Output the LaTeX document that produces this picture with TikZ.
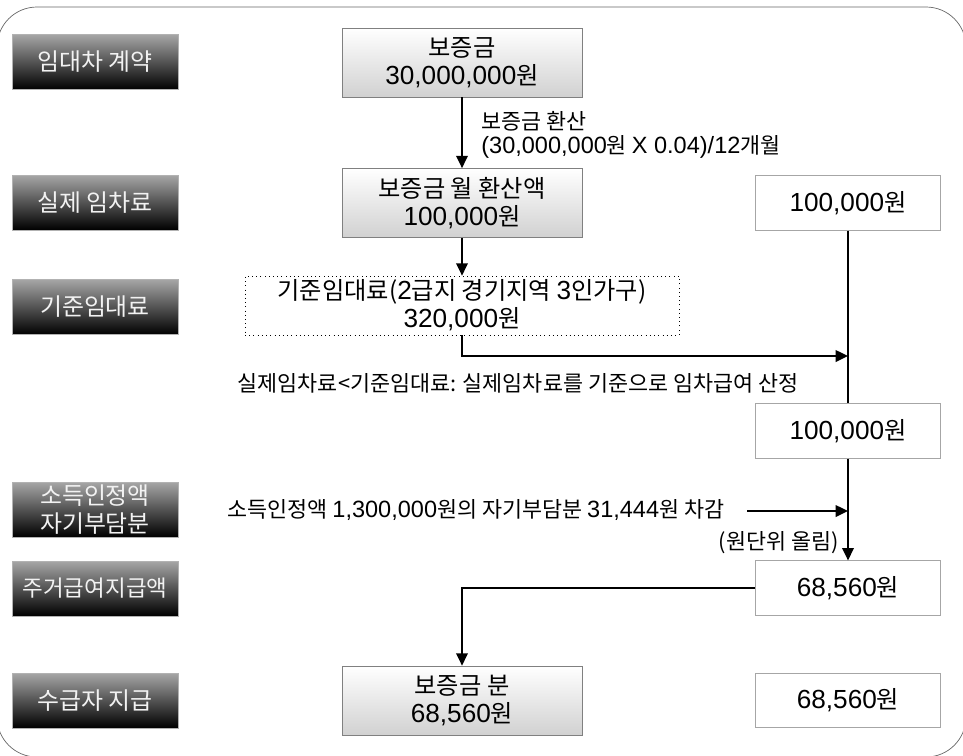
\documentclass[tikz,border=0pt]{standalone}
\usepackage{fontspec}
\setmainfont{Noto Sans CJK KR}
\newfontfamily\latn[Scale=1.08]{Liberation Sans}
\usetikzlibrary{arrows.meta}

\begin{document}
\begin{tikzpicture}[x=0.02cm, y=-0.02cm,
  stage/.style={rectangle, draw=black!30, top color=black!35, bottom color=black, text=black!5,
    minimum width=3.32cm, minimum height=1.1cm, inner sep=0pt, align=center,
    font=\fontsize{13.6}{15.5}\selectfont},
  valbox/.style={rectangle, draw=black!50, top color=white, bottom color=black!18,
    minimum width=4.8cm, minimum height=1.38cm, inner sep=0pt, align=center,
    font=\fontsize{13.8}{16}\selectfont},
  dotbox/.style={rectangle, draw, dotted, minimum width=8.68cm, minimum height=1.18cm,
    inner sep=0pt, align=center, font=\fontsize{13.8}{16}\selectfont},
  amount/.style={rectangle, draw=black!35, fill=white, minimum width=3.7cm, minimum height=1.09cm,
    inner sep=0pt, font=\fontsize{13.8}{16}\selectfont},
  note/.style={inner sep=0pt, font=\fontsize{12.4}{13.6}\selectfont},
  arr/.style={-{Triangle[length=7pt,width=6.5pt]}, line width=1.2pt},
  line/.style={line width=1.2pt}]
  % Frame
  \useasboundingbox (0,0) rectangle (963,755);
  \draw[black!60, rounded corners=0.8cm] (-3,7) rectangle (966,757);
  % Stages
  \node (lease) [stage] at (95,62) {임대차 계약};
  \node (rent) [stage] at (95,202.5) {실제 임차료};
  \node (stdrent) [stage] at (95,307) {기준임대료};
  \node (selfpay) [stage] at (95,509.5) {소득인정액\\자기부담분};
  \node (benefit) [stage, font=\fontsize{12.8}{15}\selectfont] at (95,588.5) {주거급여지급액};
  \node (recv) [stage] at (95,700.5) {수급자 지급};
  % Nodes
  \node (deposit) [valbox] at (462,62.5) {보증금\\{\latn 30,000,000}원};
  \node (monthly) [valbox] at (462,203) {보증금 월 환산액\\{\latn 100,000}원};
  \node (stdbox) [dotbox] at (462,305.5) {기준임대료({\latn 2}급지 경기지역 {\latn 3}인가구)\\{\latn 320,000}원};
  \node (paid) [valbox] at (462,700.5) {보증금 분\\{\latn 68,560}원};
  \node (rent1) [amount] at (848,203) {{\latn 100,000}원};
  \node (rent2) [amount] at (848,431) {{\latn 100,000}원};
  \node (pay1) [amount] at (848,588) {{\latn 68,560}원};
  \node (pay2) [amount] at (848,700.5) {{\latn 68,560}원};
  % Labels
  \node (convnote) [note, anchor=west, align=left] at (481,135) {보증금 환산\\{\latn (30,000,000}원 {\latn X 0.04)/12}개월};
  \node (cmpnote) [note] at (518,383) {실제임차료<기준임대료: 실제임차료를 기준으로 임차급여 산정};
  \node (incnote) [note, anchor=west] at (227,510) {소득인정액 {\latn 1,300,000}원의 자기부담분 {\latn 31,444}원 차감};
  \node (roundnote) [note, anchor=east] at (839,543) {(원단위 올림)};
  \coordinate (join) at (848,356);
  \coordinate (incstart) at (747,511);
  \coordinate (incend) at (848,511);
  % Arrows
  \draw[arr] (deposit) -- (monthly);
  \draw[arr] (monthly) -- (stdbox);
  \draw[arr] (stdbox.south) |- (join);
  \draw[line] (rent1) -- (rent2);
  \draw[arr] (rent2) -- (pay1);
  \draw[arr] (incstart) -- (incend);
  \draw[arr] (pay1.west) -| (paid.north);
\end{tikzpicture}
\end{document}
